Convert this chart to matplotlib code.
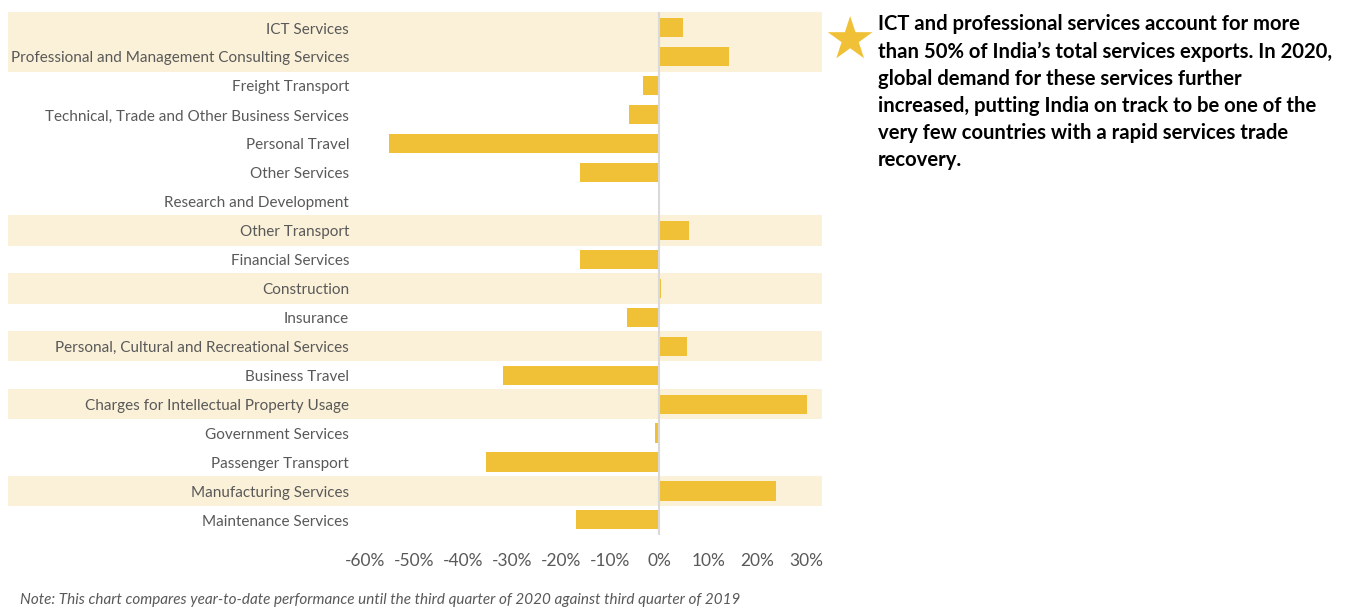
import matplotlib.pyplot as plt
from matplotlib.ticker import FuncFormatter

# Year-to-date change in India's services exports, Q3 2020 vs Q3 2019 (%)
categories = [
    'ICT Services',
    'Professional and Management Consulting Services',
    'Freight Transport',
    'Technical, Trade and Other Business Services',
    'Personal Travel',
    'Other Services',
    'Research and Development',
    'Other Transport',
    'Financial Services',
    'Construction',
    'Insurance',
    'Personal, Cultural and Recreational Services',
    'Business Travel',
    'Charges for Intellectual Property Usage',
    'Government Services',
    'Passenger Transport',
    'Manufacturing Services',
    'Maintenance Services',
]
change_pct = [4.9, 14.1, -3.3, -6.2, -55.0, -16.1, -0.3, 6.0, -16.1,
              0.3, -6.6, 5.6, -31.8, 30.1, -0.9, -35.3, 23.7, -16.9]
# rows that are shaded behind the bars
highlighted = ['ICT Services',
               'Professional and Management Consulting Services',
               'Other Transport', 'Construction',
               'Personal, Cultural and Recreational Services',
               'Charges for Intellectual Property Usage',
               'Manufacturing Services']
xticks = [-60, -50, -40, -30, -20, -10, 0, 10, 20, 30]

note = ('Note: This chart compares year-to-date performance until the third '
        'quarter of 2020 against third quarter of 2019')
callout = ("ICT and professional services account for more\n"
           "than 50% of India\u2019s total services exports. In 2020,\n"
           "global demand for these services further\n"
           "increased, putting India on track to be one of the\n"
           "very few countries with a rapid services trade\n"
           "recovery.")

BAR = '#F0C137'
BAND = '#FBF1D8'
GREY = '#595959'
FONT = 'Lato'

W, H = 1350, 609
fig = plt.figure(figsize=(W / 100, H / 100), dpi=100)
ax = fig.add_axes([8 / W, 1 - 535 / H, 814 / W, 527 / H])

rows = list(range(len(categories)))
ax.set_ylim(17.52, -0.673)
ax.set_xlim(-132.7, 33.15)

# shaded bands spanning label area and plot
for i, cat in enumerate(categories):
    if cat in highlighted:
        ax.axhspan(i - 0.53, i + 0.53, color=BAND, lw=0, zorder=0)

ax.barh(rows, change_pct, height=0.66, color=BAR, zorder=2)
ax.axvline(0, ymin=0, ymax=0.99, color='#D9D9D9', lw=1.5, zorder=3)

for i, cat in enumerate(categories):
    ax.text(-63.2, i + 0.07, cat, ha='right', va='center', fontsize=11,
            color=GREY, family=FONT)

ax.set_xticks(xticks)
ax.xaxis.set_major_formatter(FuncFormatter(lambda v, _: f'{v:.0f}%'))
ax.tick_params(axis='x', length=0, pad=13, labelsize=12.5, labelcolor=GREY)
for lbl in ax.get_xticklabels():
    lbl.set_family(FONT)
ax.set_yticks([])
for s in ax.spines.values():
    s.set_visible(False)

fig.text(20 / W, 1 - 600 / H, note, ha='left', va='center', fontsize=10.95,
         style='italic', color=GREY, family=FONT)

fig.text(849 / W, 1 - 42 / H, '\u2605', ha='center', va='center',
         fontsize=42, color=BAR, family='DejaVu Sans')
fig.text(878 / W, 1 - 14 / H, callout, ha='left', va='top', fontsize=14.6,
         fontweight='bold', color='black', family=FONT, linespacing=1.45)

fig.savefig('out.png', dpi=100)
